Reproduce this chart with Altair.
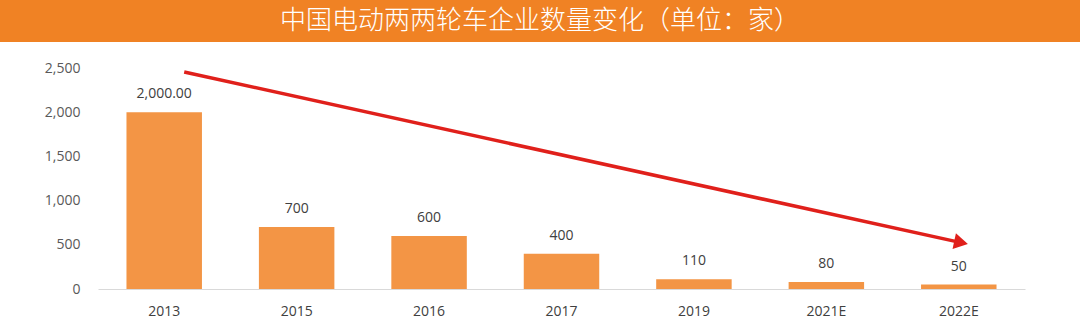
import altair as alt
import pandas as pd

years = ["2013", "2015", "2016", "2017", "2019", "2021E", "2022E"]
counts = [2000, 700, 600, 400, 110, 80, 50]
value_labels = ["2,000.00", "700", "600", "400", "110", "80", "50"]
y_ticks = [0, 500, 1000, 1500, 2000, 2500]
title_text = "中国电动两两轮车企业数量变化（单位：家）"

# trend arrow (data coordinates)
arrow_start = ("2013", 2455)
arrow_end = ("2022E", 530)

df = pd.DataFrame({"year": years, "count": counts, "label": value_labels})
arrow_df = pd.DataFrame({
    "x": [arrow_start[0]], "y": [arrow_start[1]],
    "x2": [arrow_end[0]], "y2": [arrow_end[1]],
})
head_df = pd.DataFrame({"x": [arrow_end[0]], "y": [arrow_end[1]]})
title_df = pd.DataFrame({"t": [title_text]})

W, H = 927, 221
PL, PT = 98, 68

xscale = alt.Scale(domain=years, paddingInner=0.43, paddingOuter=0.215)
yscale = alt.Scale(domain=[0, 2500])

base = alt.Chart(df)

bars = base.mark_bar(color="#F39545").encode(
    x=alt.X("year:N", scale=xscale, sort=years, title=None,
            axis=alt.Axis(labelAngle=0, labelFontSize=14, labelColor="#404040",
                          labelFont="Open Sans", labelPadding=15, ticks=False,
                          domainColor="#D9D9D9", domainWidth=1.2, grid=False)),
    y=alt.Y("count:Q", scale=yscale, title=None,
            axis=alt.Axis(values=y_ticks, format=",.0f", labelFontSize=14,
                          labelColor="#595959", labelFont="Open Sans",
                          labelPadding=18, ticks=False, domain=False, grid=False)),
)

texts = base.mark_text(dy=-18, fontSize=14, color="#404040", font="Open Sans").encode(
    x=alt.X("year:N", scale=xscale, sort=years),
    y=alt.Y("count:Q", scale=yscale),
    text="label:N",
)

arrow_line = alt.Chart(arrow_df).mark_rule(color="#E0201B", strokeWidth=3.5, xOffset=20).encode(
    x=alt.X("x:N", scale=xscale, sort=years),
    x2="x2:N",
    y=alt.Y("y:Q", scale=yscale),
    y2="y2:Q",
)

arrow_head = alt.Chart(head_df).mark_point(
    shape="triangle", filled=True, color="#E0201B", size=260, angle=102, opacity=1
).encode(
    x=alt.X("x:N", scale=xscale, sort=years),
    y=alt.Y("y:Q", scale=yscale),
)

band = alt.Chart(title_df).mark_rect(color="#F08224").encode(
    x=alt.value(-PL), x2=alt.value(1080 - PL),
    y=alt.value(-PT), y2=alt.value(42 - PT),
)
title = alt.Chart(title_df).mark_text(
    color="white", fontSize=26, font="Noto Sans CJK SC", fontWeight=300,
    baseline="middle", align="center"
).encode(
    x=alt.value(540 - PL), y=alt.value(21 - PT), text="t:N"
)

chart = alt.layer(band, title, bars, texts, arrow_line, arrow_head).properties(
    width=W, height=H,
    autosize=alt.AutoSizeParams(type="none"),
    padding={"left": PL, "top": PT, "right": 1080 - PL - W, "bottom": 324 - PT - H},
    background="white",
).configure_view(stroke=None)

chart.save("out.html", embed_options={"renderer": "svg", "actions": False})
